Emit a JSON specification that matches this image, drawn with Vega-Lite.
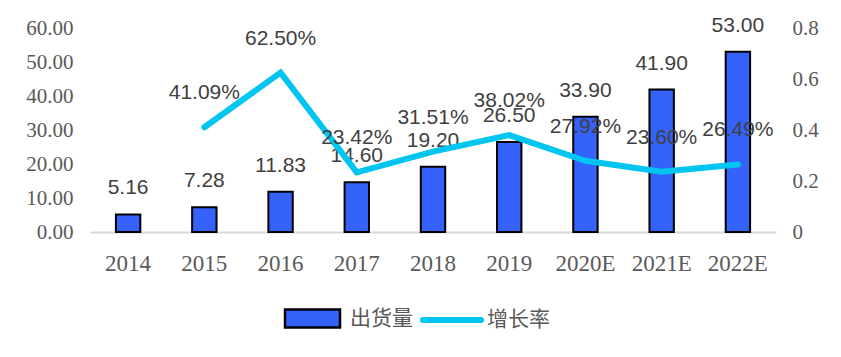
{
  "$schema": "https://vega.github.io/schema/vega-lite/v6.json",
  "width": 686,
  "height": 204,
  "autosize": "none",
  "padding": {"left": 90, "top": 28, "right": 65, "bottom": 125},
  "background": "white",
  "config": {
    "view": {"stroke": null},
    "axis": {"grid": false, "ticks": false, "domain": false, "labelColor": "#595959", "labelFont": "Liberation Serif", "title": null},
    "legend": {
      "orient": "none", "direction": "horizontal", "title": null,
      "labelFont": "Noto Sans CJK SC", "labelFontSize": 21, "labelColor": "#595959",
      "symbolSize": 400, "symbolOffset": 18, "labelOffset": 26, "columnPadding": 0
    }
  },
  "data": {
    "values": [
      {"year": "2014", "shipment": 5.16, "growth": null},
      {"year": "2015", "shipment": 7.28, "growth": 0.4109},
      {"year": "2016", "shipment": 11.83, "growth": 0.625},
      {"year": "2017", "shipment": 14.60, "growth": 0.2342},
      {"year": "2018", "shipment": 19.20, "growth": 0.3151},
      {"year": "2019", "shipment": 26.50, "growth": 0.3802},
      {"year": "2020E", "shipment": 33.90, "growth": 0.2792},
      {"year": "2021E", "shipment": 41.90, "growth": 0.2360},
      {"year": "2022E", "shipment": 53.00, "growth": 0.2649}
    ]
  },
  "encoding": {
    "x": {
      "field": "year", "type": "nominal", "sort": null,
      "scale": {"paddingInner": 0, "paddingOuter": 0},
      "axis": {"labelAngle": 0, "labelFontSize": 23, "labelPadding": 20, "domain": true, "domainColor": "#D9D9D9", "domainWidth": 2}
    }
  },
  "layer": [
    {
      "encoding": {
        "y": {"field": "shipment", "type": "quantitative",
          "scale": {"domain": [0, 60]},
          "axis": {"values": [0, 10, 20, 30, 40, 50, 60], "format": ".2f", "labelFontSize": 21, "labelPadding": 17, "orient": "left"}}
      },
      "layer": [
        {
          "mark": {"type": "bar", "width": {"band": 0.32}, "stroke": "#000000", "strokeWidth": 2},
          "encoding": {
            "fill": {"datum": "出货量", "type": "nominal",
              "scale": {"domain": ["出货量"], "range": ["#3562FA"]},
              "legend": {
                "legendX": 193, "legendY": 279,
                "symbolType": "M-2.75,-0.9H2.75V0.9H-2.75Z",
                "symbolStrokeColor": "black", "symbolStrokeWidth": 2.5,
                "encode": {"symbols": {"update": {"stroke": {"value": "black"}, "strokeWidth": {"value": 2.5}}}}
              }
            }
          }
        },
        {
          "mark": {"type": "text", "baseline": "alphabetic", "dy": -20, "fontSize": 21, "font": "Liberation Sans", "color": "#404040"},
          "encoding": {
            "text": {"field": "shipment", "type": "quantitative", "format": ".2f"}
          }
        }
      ]
    },
    {
      "transform": [{"filter": "datum.growth != null"}],
      "encoding": {
        "y": {"field": "growth", "type": "quantitative",
          "scale": {"domain": [0, 0.8]},
          "axis": {"orient": "right", "values": [0, 0.2, 0.4, 0.6, 0.8], "labelExpr": "datum.value == 0 ? '0' : format(datum.value, '.1f')", "labelFontSize": 21, "labelPadding": 16}}
      },
      "layer": [
        {
          "mark": {"type": "line", "strokeWidth": 6, "strokeCap": "round", "strokeJoin": "miter"},
          "encoding": {
            "stroke": {"datum": "增长率", "type": "nominal",
              "scale": {"domain": ["增长率"], "range": ["#00C5F0"]},
              "legend": {
                "legendX": 331, "legendY": 279, "labelOffset": 22,
                "symbolType": "M-2.9,0H2.9",
                "symbolStrokeWidth": 6,
                "encode": {"symbols": {"update": {"strokeCap": {"value": "round"}}}}
              }
            }
          }
        },
        {
          "mark": {"type": "text", "baseline": "alphabetic", "dy": -28, "fontSize": 21, "font": "Liberation Sans", "color": "#404040"},
          "encoding": {
            "text": {"field": "growth", "type": "quantitative", "format": ".2%"}
          }
        }
      ]
    }
  ],
  "resolve": {"scale": {"y": "independent"}}
}
